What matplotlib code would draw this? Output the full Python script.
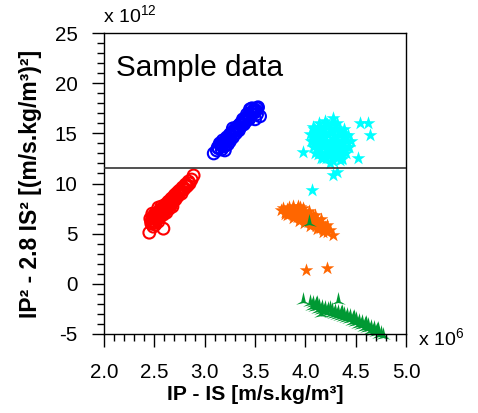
import matplotlib
matplotlib.use('Agg')
import matplotlib.pyplot as plt
from matplotlib.ticker import MultipleLocator

plt.rcParams['font.family'] = ['Liberation Sans', 'DejaVu Sans']
plt.rcParams['axes.unicode_minus'] = False

# red circles
red_x = [2.45, 2.59, 2.47, 2.46, 2.49, 2.50, 2.52, 2.53, 2.55, 2.56, 2.58, 2.57, 2.60, 2.61, 2.63,
         2.64, 2.66, 2.67, 2.69, 2.70, 2.72, 2.73, 2.75, 2.77, 2.78, 2.80, 2.81, 2.83, 2.84, 2.87,
         2.89, 2.62, 2.54, 2.68, 2.51, 2.48,
         2.47, 2.48, 2.50, 2.51, 2.52, 2.53, 2.55, 2.56, 2.57, 2.58, 2.59, 2.60, 2.61, 2.62, 2.63,
         2.64, 2.65, 2.66, 2.67, 2.68, 2.69, 2.71, 2.71, 2.74, 2.76, 2.79, 2.82, 2.85, 2.49, 2.54]
red_y = [5.1, 5.5, 6.0, 6.5, 6.3, 6.9, 6.4, 7.1, 6.8, 7.4, 7.0, 7.7, 7.5, 7.9, 7.6,
         8.2, 8.0, 8.5, 8.3, 8.8, 8.6, 9.1, 9.3, 9.0, 9.6, 9.5, 9.9, 9.8, 10.2, 10.4,
         10.8, 7.1, 7.6, 7.7, 5.9, 7.0,
         6.2, 6.6, 6.1, 6.7, 7.0, 6.5, 7.2, 6.7, 7.3, 7.5, 6.9, 7.2, 7.6, 7.4, 8.0,
         7.8, 7.5, 8.3, 7.9, 8.2, 8.6, 8.4, 8.9, 8.8, 9.2, 9.4, 9.7, 10.0, 5.7, 6.2]

# blue circles
blue_x = [3.09, 3.20, 3.13, 3.15, 3.17, 3.18, 3.20, 3.22, 3.24, 3.25, 3.27, 3.29, 3.30, 3.32, 3.33,
          3.35, 3.36, 3.38, 3.40, 3.41, 3.43, 3.44, 3.46, 3.48, 3.50, 3.52, 3.53, 3.55, 3.50, 3.45,
          3.23, 3.28,
          3.12, 3.14, 3.16, 3.17, 3.19, 3.21, 3.21, 3.23, 3.25, 3.26, 3.28, 3.29, 3.31, 3.32, 3.34,
          3.35, 3.37, 3.38, 3.39, 3.41, 3.42, 3.44, 3.45, 3.47, 3.49, 3.51, 3.47, 3.52]
blue_y = [13.0, 13.3, 13.6, 14.0, 13.8, 14.3, 14.1, 14.6, 14.4, 14.9, 15.1, 14.9, 15.4, 15.3, 15.7,
          15.6, 16.0, 16.2, 16.1, 16.5, 16.7, 16.4, 17.0, 17.2, 17.1, 17.5, 17.6, 16.7, 16.4, 17.4,
          13.9, 15.5,
          13.3, 13.5, 13.9, 13.4, 13.7, 14.2, 13.8, 14.4, 14.2, 14.7, 14.6, 15.2, 15.0, 15.6, 15.3,
          15.9, 15.8, 16.4, 15.9, 16.3, 16.9, 16.8, 16.6, 16.9, 17.4, 17.3, 17.5, 16.9]

# cyan stars
cyan_x = [4.05, 4.08, 4.10, 4.12, 4.12, 4.15, 4.15, 4.17, 4.18, 4.18, 4.20, 4.20, 4.22, 4.22, 4.24,
          4.27, 4.25, 4.26, 4.27, 4.28, 4.29, 4.30, 4.31, 4.32, 4.33, 4.35, 4.36, 4.37, 4.38, 4.40,
          4.39, 4.42, 4.10, 4.13, 4.08, 4.20, 4.34, 4.24, 4.14, 4.28,
          4.14, 4.20, 4.26, 4.31,
          4.09, 4.14, 4.19, 4.24, 4.29, 4.34, 4.38,
          4.07, 4.13, 4.18, 4.23, 4.28, 4.33, 4.38, 4.42,
          4.06, 4.11, 4.16, 4.21, 4.26, 4.31, 4.36, 4.41, 4.45,
          4.08, 4.13, 4.18, 4.23, 4.28, 4.33, 4.38, 4.43,
          4.10, 4.15, 4.20, 4.25, 4.30, 4.35, 4.40,
          4.16, 4.21, 4.26, 4.31, 4.36,
          3.98, 4.54, 4.62, 4.64, 4.52, 4.27, 4.31, 4.07]
cyan_y = [14.9, 14.2, 15.3, 13.5, 14.6, 15.6, 13.0, 14.1, 12.5, 15.0, 13.7, 14.6, 15.9, 12.9, 14.0,
          16.5, 13.3, 15.1, 12.2, 14.5, 13.7, 15.5, 12.9, 14.2, 13.5, 15.0, 12.4, 14.0, 13.2, 14.6,
          14.8, 13.6, 13.9, 12.9, 15.6, 16.2, 12.3, 12.0, 14.3, 13.0,
          16.0, 16.0, 16.0, 16.0,
          15.4, 15.4, 15.4, 15.4, 15.4, 15.4, 15.4,
          14.8, 14.8, 14.8, 14.8, 14.8, 14.8, 14.8, 14.8,
          14.2, 14.2, 14.2, 14.2, 14.2, 14.2, 14.2, 14.2, 14.2,
          13.6, 13.6, 13.6, 13.6, 13.6, 13.6, 13.6, 13.6,
          13.0, 13.0, 13.0, 13.0, 13.0, 13.0, 13.0,
          12.5, 12.5, 12.5, 12.5, 12.5,
          13.1, 16.0, 16.0, 14.8, 12.5, 10.8, 11.1, 9.4]

# orange stars
orange_x = [3.76, 3.78, 3.80, 3.82, 3.84, 3.84, 3.86, 3.88, 3.88, 3.90, 3.92, 3.92, 3.94, 3.95, 3.96,
            3.98, 3.98, 4.00, 4.00, 4.02, 4.03, 4.04, 4.06, 4.07, 4.08, 4.10, 4.11, 4.12, 4.14, 4.15,
            4.17, 4.18, 4.20, 4.22, 4.24, 4.27, 3.80, 3.90,
            3.82, 3.88, 3.94, 3.99, 4.05, 4.12, 4.18,
            3.88, 3.93, 3.98, 4.04, 4.10, 4.16, 4.22,
            4.01, 4.22]
orange_y = [7.4, 7.6, 7.2, 7.5, 7.0, 7.7, 7.3, 7.6, 6.9, 7.2, 7.5, 6.7, 7.0, 7.7, 6.5,
            7.3, 6.8, 6.4, 7.1, 6.7, 6.2, 7.0, 6.5, 6.0, 6.8, 6.3, 5.8, 6.5, 6.0, 5.6,
            6.1, 5.5, 5.7, 5.2, 5.4, 4.9, 7.0, 6.8,
            6.9, 6.6, 6.3, 6.1, 5.8, 5.5, 5.2,
            7.8, 7.8, 7.6, 7.3, 6.9, 6.5, 5.9,
            1.4, 1.6]

# green three-point stars
green_x = [4.05, 4.07, 4.08, 4.10, 4.11, 4.13, 4.14, 4.16, 4.17, 4.19, 4.20, 4.22, 4.23, 4.25, 4.26,
           4.28, 4.29, 4.31, 4.32, 4.34, 4.35, 4.37, 4.38, 4.40, 4.41, 4.43, 4.44, 4.46, 4.47, 4.49,
           4.50, 4.52, 4.53, 4.55, 4.56, 4.58, 4.59, 4.61, 4.62, 4.64, 4.65, 4.67, 4.68, 4.70, 4.71,
           4.73, 4.75, 4.77, 4.16,
           4.12, 4.24, 4.36, 4.48, 4.60, 4.72,
           3.98, 4.32, 4.04]
green_y = [-1.8, -2.2, -1.9, -2.3, -2.0, -2.5, -2.2, -2.6, -2.3, -2.7, -2.4, -2.8, -2.5, -2.9, -2.6,
           -3.0, -2.7, -3.1, -2.8, -3.2, -2.9, -3.3, -3.0, -3.4, -3.1, -3.5, -3.2, -3.7, -3.4, -3.8,
           -3.5, -4.0, -3.7, -4.1, -3.8, -4.3, -4.0, -4.4, -4.1, -4.6, -4.3, -4.7, -4.4, -4.8, -4.6,
           -5.0, -4.9, -5.1, -2.9,
           -1.9, -2.4, -2.8, -3.3, -3.9, -4.5,
           -1.6, -1.6, 6.2]

cutoff = 11.55

# three-point star with concave sides
tri = [(0, 1), (0.26, -0.15), (0.87, -0.5), (0, -0.3), (-0.87, -0.5), (-0.26, -0.15), (0, 1)]

fig = plt.figure(figsize=(4.78, 4.13), dpi=100)
ax = fig.add_axes([0.2176, 0.1913, 0.6318, 0.7287])

ax.scatter(red_x, red_y, s=72, marker='o', facecolors='none', edgecolors='#ff0000', linewidths=1.5)
ax.scatter(blue_x, blue_y, s=72, marker='o', facecolors='none', edgecolors='#0000ff', linewidths=1.5)
ax.scatter(cyan_x, cyan_y, s=110, marker='*', color='#00ffff', linewidths=0)
ax.scatter(orange_x, orange_y, s=105, marker='*', color='#ff6600', linewidths=0)
ax.scatter(green_x, green_y, s=150, marker=tri, color='#009933', linewidths=0, clip_on=False)

ax.axhline(cutoff, color='#333333', lw=1.2, zorder=5)

ax.set_xlim(2.0, 5.0)
ax.set_ylim(-5, 25)
ax.xaxis.set_major_locator(MultipleLocator(0.5))
ax.xaxis.set_minor_locator(MultipleLocator(0.1))
ax.yaxis.set_major_locator(MultipleLocator(5))
ax.yaxis.set_minor_locator(MultipleLocator(1))
ax.xaxis.set_major_formatter(plt.FormatStrFormatter('%.1f'))
ax.tick_params(which='major', direction='out', length=9, width=1, labelsize=14.8, pad=10)
ax.tick_params(which='minor', direction='out', length=5, width=1)
ax.tick_params(axis='x', which='major', pad=12)
for sp in ax.spines.values():
    sp.set_linewidth(1)

ax.set_xlabel('IP - IS [m/s.kg/m³]', fontsize=15.2, fontweight='bold', labelpad=2)
ax.set_ylabel('IP² - 2.8 IS² [(m/s.kg/m³)²]', fontsize=16.5, fontweight='bold', labelpad=9)

ax.text(0.04, 0.93, 'Sample data', transform=ax.transAxes, fontsize=21.4, va='top', ha='left')
fig.text(103 / 478, 1 - 22 / 413, r'x $\mathregular{10^{12}}$', fontsize=14, ha='left', va='baseline')
fig.text(418 / 478, 1 - 345 / 413, r'x $\mathregular{10^{6}}$', fontsize=14, ha='left', va='baseline')

fig.savefig('out.png', dpi=100)
